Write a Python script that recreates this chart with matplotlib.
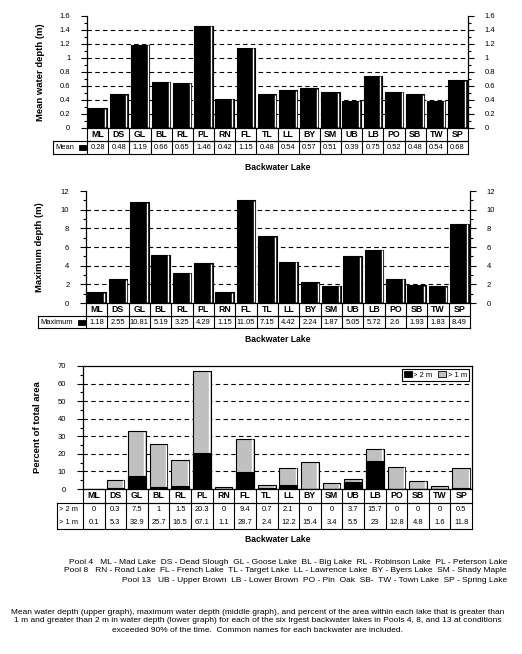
import matplotlib
matplotlib.use("Agg")
import matplotlib.pyplot as plt
import numpy as np
from matplotlib.patches import Rectangle, Patch
from matplotlib.ticker import MultipleLocator

plt.rcParams['font.family'] = ['Liberation Sans', 'DejaVu Sans']

lakes = ["ML", "DS", "GL", "BL", "RL", "PL", "RN", "FL", "TL",
         "LL", "BY", "SM", "UB", "LB", "PO", "SB", "TW", "SP"]
mean_depth = [0.28, 0.48, 1.19, 0.66, 0.65, 1.46, 0.42, 1.15, 0.48,
              0.54, 0.57, 0.51, 0.39, 0.75, 0.52, 0.48, 0.39, 0.68]
mean_labels = ["0.28", "0.48", "1.19", "0.66", "0.65", "1.46", "0.42", "1.15", "0.48",
               "0.54", "0.57", "0.51", "0.39", "0.75", "0.52", "0.48", "0.54", "0.68"]
max_depth = [1.18, 2.55, 10.81, 5.19, 3.25, 4.29, 1.15, 11.05, 7.15,
             4.42, 2.24, 1.87, 5.05, 5.72, 2.6, 1.93, 1.83, 8.49]
pct_gt2 = [0, 0.3, 7.5, 1, 1.5, 20.3, 0, 9.4, 0.7,
           2.1, 0, 0, 3.7, 15.7, 0, 0, 0, 0.5]
pct_gt1 = [0.1, 5.3, 32.9, 25.7, 16.5, 67.1, 1.1, 28.7, 2.4,
           12.2, 15.4, 3.4, 5.5, 23, 12.8, 4.8, 1.6, 11.8]

pool_text = ("Pool 4   ML - Mad Lake  DS - Dead Slough  GL - Goose Lake  BL - Big Lake  RL - Robinson Lake  PL - Peterson Lake\n"
             "Pool 8   RN - Road Lake  FL - French Lake  TL - Target Lake  LL - Lawrence Lake  BY - Byers Lake  SM - Shady Maple\n"
             "Pool 13   UB - Upper Brown  LB - Lower Brown  PO - Pin  Oak  SB-  TW - Town Lake  SP - Spring Lake")
caption = ("Mean water depth (upper graph), maximum water depth (middle graph), and percent of the area within each lake that is greater than\n"
           "1 m and greater than 2 m in water depth (lower graph) for each of the six lrgest backwater lakes in Pools 4, 8, and 13 at conditions\n"
           "exceeded 90% of the time.  Common names for each backwater are included.")

W, H = 522, 654
fig = plt.figure(figsize=(W / 100, H / 100), dpi=100)
GRAY = "#c0c0c0"
x = np.arange(len(lakes))


def px_axes(left, top, right, bottom):
    return fig.add_axes([left / W, 1 - bottom / H, (right - left) / W, (bottom - top) / H])


def style_axes(ax, ymax, major, minor, right_ticks=True, box=False):
    ax.set_xlim(-0.5, len(lakes) - 0.5)
    ax.set_ylim(0, ymax)
    ax.yaxis.set_major_locator(MultipleLocator(major))
    ax.yaxis.set_minor_locator(MultipleLocator(minor))
    ax.yaxis.set_major_formatter(plt.FuncFormatter(lambda v, p: f"{v:g}"))
    ax.set_xticks([])
    ax.spines['top'].set_visible(box)
    for s in ax.spines.values():
        s.set_linewidth(0.9)
    ax.tick_params(axis='y', which='major', direction='out', length=4, width=0.8,
                   labelsize=5.5, pad=8, right=right_ticks, labelright=right_ticks)
    ax.tick_params(axis='y', which='minor', direction='out', length=2.5, width=0.8,
                   right=right_ticks)
    for yv in np.arange(major, ymax - major / 2, major):
        ax.axhline(yv, color='black', lw=0.8, ls=(0, (4, 3)), zorder=0.5)


def shaded_bars(ax, vals, color, width, zorder=2):
    ax.bar(x, vals, width=width, color=color, edgecolor='black', linewidth=0.8, zorder=zorder)
    off = width / 2 - 0.07
    ylo = ax.get_ylim()[1] * 0.006
    for xi, v in zip(x, vals):
        if v > ylo * 3:
            ax.plot([xi + off, xi + off], [ylo, v - ylo], color='white', lw=1.0,
                    zorder=zorder + 0.1, solid_capstyle='butt')


def draw_table(ax, rows, labels, cat_px, row_px, label_px, ax_w, ax_h, merged=False):
    tr = ax.transAxes
    n = len(lakes)
    lw = label_px / ax_w
    kw = dict(color='black', lw=0.8, transform=tr, clip_on=False, solid_capstyle='projecting')
    yc = -cat_px / ax_h
    ydat = yc - len(rows) * row_px / ax_h
    # category row
    ax.plot([0, 1], [yc, yc], **kw)
    for j in range(n + 1):
        ax.plot([j / n, j / n], [0, yc], **kw)
    for j, name in enumerate(lakes):
        ax.text((j + 0.5) / n, yc / 2, name, transform=tr, ha='center', va='center',
                fontsize=6.3, fontweight='bold')
    # data rows
    ax.plot([-lw, 1], [yc, yc], **kw)
    ax.plot([-lw, 1], [ydat, ydat], **kw)
    for xv in [-lw] + [j / n for j in range(n + 1)]:
        ax.plot([xv, xv], [yc, ydat], **kw)
    for r, (lab, row) in enumerate(zip(labels, rows)):
        ytop = yc - r * row_px / ax_h
        ybot = ytop - row_px / ax_h
        if not merged and r > 0:
            ax.plot([-lw, 1], [ytop, ytop], **kw)
        ym = (ytop + ybot) / 2
        ax.text(-lw + 2 / ax_w, ym, lab, transform=tr, ha='left', va='center', fontsize=5.4)
        for j, s in enumerate(row):
            ax.text((j + 0.5) / n, ym, s, transform=tr, ha='center', va='center', fontsize=5.4)
    return lw, yc, ydat


def key_box(ax, lw, yc, ydat, ax_w, ax_h):
    ax.add_patch(Rectangle((-8.5 / ax_w, (yc + ydat) / 2 - 2.5 / ax_h), 7 / ax_w, 5 / ax_h,
                           transform=ax.transAxes, facecolor='black', edgecolor='black',
                           lw=0.6, clip_on=False, zorder=5))


# ---- upper graph: mean depth
ax1 = px_axes(87, 16, 468, 128)
style_axes(ax1, 1.6, 0.2, 0.1)
shaded_bars(ax1, mean_depth, 'black', 0.87)
t1 = draw_table(ax1, [mean_labels], ["Mean"], 13, 13, 34, 381, 112)
key_box(ax1, *t1, 381, 112)
ax1.set_ylabel("Mean water depth (m)", fontsize=6.8, fontweight='bold')
ax1.yaxis.set_label_coords(-0.11, 0.5)
fig.text(278 / W, 1 - 167 / H, "Backwater Lake", ha='center', va='center',
         fontsize=6.2, fontweight='bold')

# ---- middle graph: maximum depth
ax2 = px_axes(86, 191, 470, 303)
style_axes(ax2, 12, 2, 1)
shaded_bars(ax2, max_depth, 'black', 0.87)
t2 = draw_table(ax2, [[f"{v:g}" for v in max_depth]], ["Maximum"], 13, 12, 48, 384, 112)
key_box(ax2, *t2, 384, 112)
ax2.set_ylabel("Maximum depth (m)", fontsize=6.8, fontweight='bold')
ax2.yaxis.set_label_coords(-0.11, 0.5)
fig.text(278 / W, 1 - 340 / H, "Backwater Lake", ha='center', va='center',
         fontsize=6.2, fontweight='bold')

# ---- lower graph: percent of area
ax3 = px_axes(83, 366, 472, 489)
style_axes(ax3, 70, 10, 5, right_ticks=False, box=True)
shaded_bars(ax3, pct_gt1, GRAY, 0.82)
ax3.bar(x, pct_gt2, width=0.82, color='black', edgecolor='black', linewidth=0.8, zorder=3)
draw_table(ax3, [[f"{v:g}" for v in pct_gt2], [f"{v:g}" for v in pct_gt1]],
           ["> 2 m", "> 1 m"], 14, 13, 26, 389, 123, merged=True)
ax3.set_ylabel("Percent of total area", fontsize=6.8, fontweight='bold')
ax3.yaxis.set_label_coords(-0.105, 0.5)
leg = ax3.legend(handles=[Patch(facecolor='black', edgecolor='black', lw=0.6),
                          Patch(facecolor=GRAY, edgecolor='black', lw=0.6)],
                 labels=["> 2 m", "> 1 m"], loc='upper right', ncol=2, fontsize=5.5,
                 handlelength=1.0, handleheight=0.8, handletextpad=0.2, columnspacing=0.8,
                 borderpad=0.3, fancybox=False, framealpha=1, borderaxespad=0.4)
leg.get_frame().set_edgecolor('black')
leg.get_frame().set_linewidth(0.8)
fig.text(278 / W, 1 - 539 / H, "Backwater Lake", ha='center', va='center',
         fontsize=6.2, fontweight='bold')

# ---- notes
fig.text(507 / W, 1 - 571 / H, pool_text, ha='right', va='center', fontsize=6.0,
         linespacing=1.4)
fig.text(258 / W, 1 - 621 / H, caption, ha='center', va='center', fontsize=6.0,
         linespacing=1.4)

fig.savefig("out.png", dpi=100)
